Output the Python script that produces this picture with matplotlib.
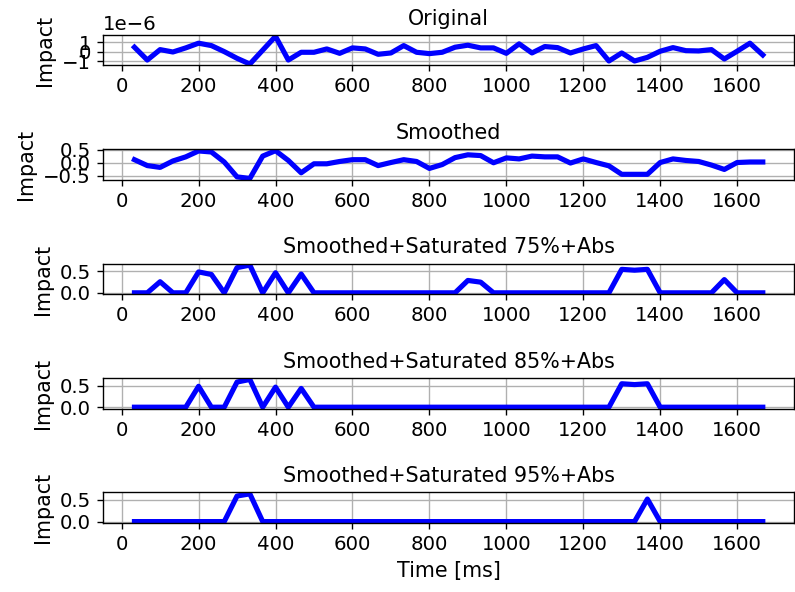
import matplotlib
matplotlib.use("Agg")
import matplotlib.pyplot as plt

# tiempos de cada muestra (ms), 30 fps
time_ms = [33.3, 66.7, 100.0, 133.3, 166.7, 200.0, 233.3, 266.7, 300.0, 333.3,
           366.7, 400.0, 433.3, 466.7, 500.0, 533.3, 566.7, 600.0, 633.3, 666.7,
           700.0, 733.3, 766.7, 800.0, 833.3, 866.7, 900.0, 933.3, 966.7, 1000.0,
           1033.3, 1066.7, 1100.0, 1133.3, 1166.7, 1200.0, 1233.3, 1266.7, 1300.0, 1333.3,
           1366.7, 1400.0, 1433.3, 1466.7, 1500.0, 1533.3, 1566.7, 1600.0, 1633.3, 1666.7]

# señal original (unidades 1e-6)
original = [0.46, -0.88, 0.21, -0.04, 0.39, 0.88, 0.63, 0.0, -0.7, -1.3,
            0.15, 1.6, -0.88, -0.07, -0.07, 0.28, -0.18, 0.39, 0.28, -0.28,
            -0.14, 0.63, -0.07, -0.21, -0.07, 0.46, 0.67, 0.39, 0.39, -0.18,
            0.81, -0.14, 0.53, 0.42, -0.14, 0.28, 0.63, -0.98, -0.14, -0.98,
            -0.6, 0.04, 0.42, 0.1, 0.07, 0.21, -0.77, 0.04, 0.88, -0.35]
original = [v * 1e-6 for v in original]

smoothed = [0.12, -0.11, -0.18, 0.07, 0.23, 0.46, 0.42, 0.03, -0.55, -0.61,
            0.26, 0.47, 0.09, -0.39, -0.04, -0.04, 0.05, 0.12, 0.12, -0.11,
            0.01, 0.12, 0.05, -0.22, -0.07, 0.2, 0.31, 0.28, 0.0, 0.19,
            0.15, 0.26, 0.23, 0.23, -0.01, 0.15, 0.01, -0.12, -0.45, -0.45,
            -0.45, 0.01, 0.15, 0.09, 0.05, -0.09, -0.26, 0.01, 0.03, 0.03]

sat_75 = [0, 0, 0.26, 0, 0, 0.49, 0.43, 0, 0.59, 0.65,
          0, 0.47, 0, 0.44, 0, 0, 0, 0, 0, 0,
          0, 0, 0, 0, 0, 0, 0.29, 0.25, 0, 0,
          0, 0, 0, 0, 0, 0, 0, 0, 0.55, 0.53,
          0.55, 0, 0, 0, 0, 0, 0.31, 0, 0, 0]

sat_85 = [0, 0, 0, 0, 0, 0.49, 0, 0, 0.59, 0.65,
          0, 0.47, 0, 0.44, 0, 0, 0, 0, 0, 0,
          0, 0, 0, 0, 0, 0, 0, 0, 0, 0,
          0, 0, 0, 0, 0, 0, 0, 0, 0.55, 0.53,
          0.55, 0, 0, 0, 0, 0, 0, 0, 0, 0]

sat_95 = [0, 0, 0, 0, 0, 0, 0, 0, 0.59, 0.64,
          0, 0, 0, 0, 0, 0, 0, 0, 0, 0,
          0, 0, 0, 0, 0, 0, 0, 0, 0, 0,
          0, 0, 0, 0, 0, 0, 0, 0, 0, 0,
          0.52, 0, 0, 0, 0, 0, 0, 0, 0, 0]

titulos = ["Original", "Smoothed", "Smoothed+Saturated 75%+Abs",
           "Smoothed+Saturated 85%+Abs", "Smoothed+Saturated 95%+Abs"]
series = [original, smoothed, sat_75, sat_85, sat_95]

plt.rcParams['font.size'] = 12

fig, axs = plt.subplots(5, 1, figsize=(795 / 124, 592 / 124), dpi=124)
fig.subplots_adjust(left=0.1296, right=0.999, top=0.941, bottom=0.1166, hspace=2.75)

for ax, titulo, datos in zip(axs, titulos, series):
    ax.plot(time_ms, datos, color='b', linewidth=3)
    ax.set_title(titulo, fontsize=12)
    ax.set_ylabel("Impact", fontsize=12)
    ax.tick_params(labelsize=11.5)
    ax.grid(True)

axs[0].yaxis.get_offset_text().set_fontsize(11.5)
axs[-1].set_xlabel("Time [ms]", fontsize=12)

fig.savefig("out.png", dpi=124)
